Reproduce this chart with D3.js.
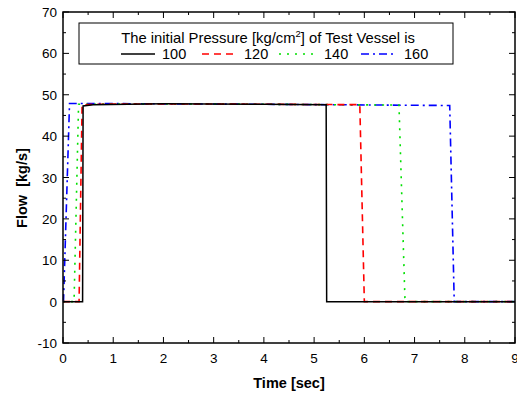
<!DOCTYPE html>
<html>
<head>
<meta charset="utf-8">
<script src="https://cdn.jsdelivr.net/npm/d3@7"></script>
<style>
  body { margin: 0; background: #fff; }
  text { font-family: "Liberation Sans", Arial, sans-serif; }
</style>
</head>
<body>
<svg width="517" height="394"></svg>
<script>
// series data: [time (s), flow (kg/s)]
var p100 = [[0, 0], [0.39, 0], [0.40, 47.3], [0.6, 47.6], [2, 47.8], [4, 47.7], [5.24, 47.6], [5.25, 0], [9, 0]];
var p120 = [[0, 0], [0.32, 0], [0.38, 47.5], [0.6, 47.7], [2, 47.8], [4, 47.7], [5.91, 47.6], [6.0, 0], [9, 0]];
var p140 = [[0, 0], [0.22, 0], [0.31, 47.7], [2, 47.8], [4, 47.7], [6.69, 47.5], [6.81, 0], [9, 0]];
var p160 = [[0, 0], [0.01, 0], [0.13, 47.9], [2, 47.8], [4, 47.7], [7.70, 47.4], [7.79, 0], [9, 0]];

var seriesNames = ["100", "120", "140", "160"];
var seriesData = [p100, p120, p140, p160];
var seriesColors = ["#000000", "#ff0000", "#00e000", "#0000ff"];
var seriesDash = [null, "7,5", "2,6", "8,4,2,4"];

var xTicks = [0, 1, 2, 3, 4, 5, 6, 7, 8, 9];
var yTicks = [-10, 0, 10, 20, 30, 40, 50, 60, 70];

var plotL = 63, plotR = 515, plotT = 12, plotB = 343;

var svg = d3.select("svg");

var x = d3.scaleLinear().domain([0, 9]).range([plotL, plotR]);
var y = d3.scaleLinear().domain([-10, 70]).range([plotB, plotT]);

var xMinor = d3.range(0.5, 9, 1);
var yMinor = d3.range(-5, 70, 10);

// lines
var line = d3.line()
    .x(function (d) { return x(d[0]); })
    .y(function (d) { return y(d[1]); });

var order = [3, 2, 1, 0];
order.forEach(function (i) {
    svg.append("path")
        .attr("d", line(seriesData[i]))
        .attr("fill", "none")
        .attr("stroke", seriesColors[i])
        .attr("stroke-width", i === 0 ? 1.5 : 1.6)
        .attr("stroke-dasharray", seriesDash[i]);
});

// frame
svg.append("rect")
    .attr("x", plotL).attr("y", plotT)
    .attr("width", plotR - plotL).attr("height", plotB - plotT)
    .attr("fill", "none").attr("stroke", "#000").attr("stroke-width", 1.5);

var ticks = svg.append("g").attr("stroke", "#000").attr("stroke-width", 1);

function xtick(v, len) {
    ticks.append("line").attr("x1", x(v)).attr("x2", x(v)).attr("y1", plotB).attr("y2", plotB - len);
    ticks.append("line").attr("x1", x(v)).attr("x2", x(v)).attr("y1", plotT).attr("y2", plotT + len);
}
function ytick(v, len) {
    ticks.append("line").attr("y1", y(v)).attr("y2", y(v)).attr("x1", plotL).attr("x2", plotL + len);
    ticks.append("line").attr("y1", y(v)).attr("y2", y(v)).attr("x1", plotR).attr("x2", plotR - len);
}
xTicks.forEach(function (v) { xtick(v, 6); });
xMinor.forEach(function (v) { xtick(v, 3); });
yTicks.forEach(function (v) { ytick(v, 6); });
yMinor.forEach(function (v) { ytick(v, 3); });

// tick labels
svg.append("g").selectAll("text").data(xTicks).join("text")
    .attr("x", function (d) { return x(d); })
    .attr("y", plotB + 20)
    .attr("text-anchor", "middle")
    .attr("font-size", 13.5)
    .text(function (d) { return d; });

svg.append("g").selectAll("text").data(yTicks).join("text")
    .attr("x", plotL - 6)
    .attr("y", function (d) { return y(d) + 5; })
    .attr("text-anchor", "end")
    .attr("font-size", 13.5)
    .text(function (d) { return d; });

// axis titles
svg.append("text")
    .attr("x", (plotL + plotR) / 2).attr("y", 388)
    .attr("text-anchor", "middle")
    .attr("font-size", 14.5).attr("font-weight", "bold")
    .text("Time [sec]");

svg.append("text")
    .attr("transform", "translate(27,188) rotate(-90)")
    .attr("text-anchor", "middle")
    .attr("font-size", 14.5).attr("font-weight", "bold")
    .style("white-space", "pre")
    .text("Flow  [kg/s]");

// legend
var lg = svg.append("g");
lg.append("rect")
    .attr("x", 79).attr("y", 23)
    .attr("width", 374).attr("height", 41)
    .attr("fill", "#fff").attr("stroke", "#000").attr("stroke-width", 1);

var title = lg.append("text")
    .attr("x", 268).attr("y", 43)
    .attr("text-anchor", "middle")
    .attr("font-size", 14.8);
title.append("tspan").text("The initial Pressure [kg/cm");
title.append("tspan").attr("font-size", 9.5).attr("dy", -6).text("2");
title.append("tspan").attr("dy", 6).text("] of Test Vessel is");

var sampleX = [121, 202, 279, 361];
var labelX = [162, 244, 324, 404];
seriesNames.forEach(function (name, i) {
    lg.append("line")
        .attr("x1", sampleX[i]).attr("x2", sampleX[i] + 34)
        .attr("y1", 54).attr("y2", 54)
        .attr("stroke", seriesColors[i])
        .attr("stroke-width", 1.6)
        .attr("stroke-dasharray", seriesDash[i]);
    lg.append("text")
        .attr("x", labelX[i]).attr("y", 59)
        .attr("font-size", 14.5)
        .text(name);
});
</script>
</body>
</html>
